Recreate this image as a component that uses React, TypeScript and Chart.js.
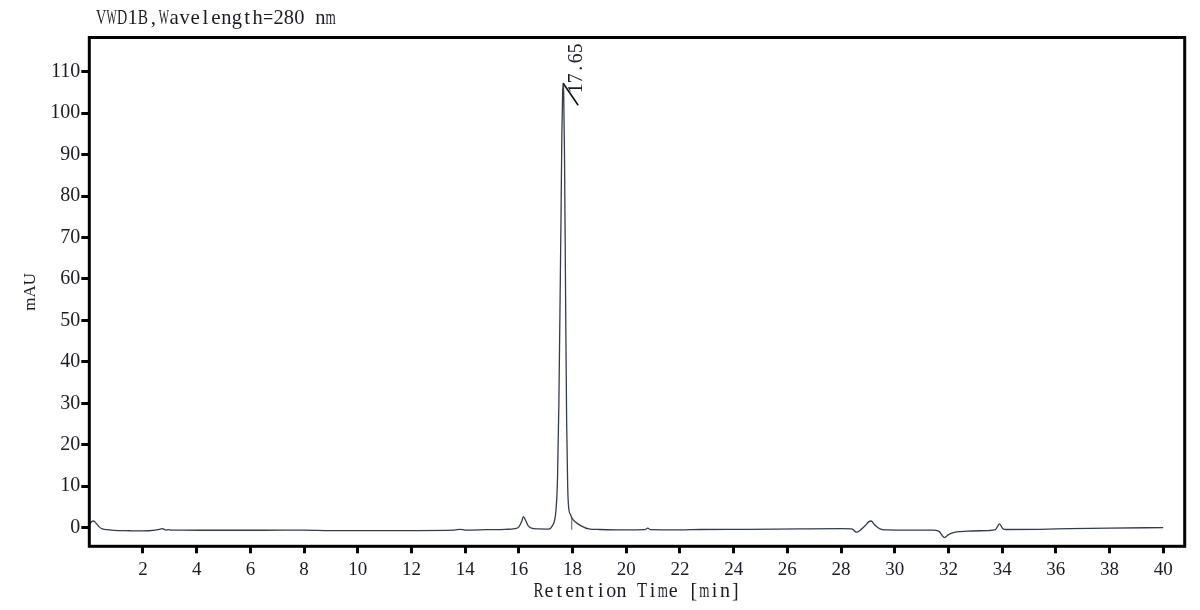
import React, { useEffect, useRef } from 'react';
import { Chart, registerables } from 'chart.js';

Chart.register(...registerables);

// retention time (min) and detector signal (mAU)
const times = [
  0, 0.08, 0.16, 0.25, 0.35, 0.45, 0.65, 0.9, 1.5, 2.0,
  2.45, 2.6, 2.72, 2.86, 2.95, 3.05, 3.5, 5, 6.5, 8.0,
  9.0, 10.5, 12.0, 13.6, 13.8, 14.0, 14.8, 15.5, 15.85, 16.0,
  16.1, 16.17, 16.25, 16.35, 16.5, 16.7, 17.0, 17.15, 17.25, 17.32,
  17.38, 17.44, 17.49, 17.53, 17.57, 17.6, 17.63, 17.65, 17.67, 17.7,
  17.74, 17.78, 17.82, 17.86, 17.92, 17.97, 18.1, 18.3, 18.6, 19.0,
  19.9, 20.7, 20.8, 20.9, 22.0, 22.75, 24.5, 26.5, 28.0, 28.4,
  28.57, 28.72, 28.9, 29.03, 29.12, 29.25, 29.45, 29.7, 30.5, 31.4,
  31.65, 31.85, 32.0, 32.25, 32.7, 33.5, 33.75, 33.9, 34.02, 34.15,
  35.4, 36.5, 38.0, 40.0,
];
const signal = [
  0.9, 1.4, 1.6, 1.1, 0.3, -0.2, -0.5, -0.65, -0.75, -0.8,
  -0.6, -0.4, -0.25, -0.6, -0.5, -0.6, -0.62, -0.63, -0.63, -0.6,
  -0.72, -0.72, -0.7, -0.6, -0.4, -0.6, -0.5, -0.4, -0.25, 0.2,
  1.4, 2.65, 1.8, 0.4, -0.2, -0.3, -0.35, -0.3, 0.5, 1.5,
  4, 12, 30, 52, 75, 94, 105, 107.2, 104.5, 90,
  56, 25, 9.5, 4.5, 3.2, 2.4, 1.4, 0.5, -0.3, -0.45,
  -0.55, -0.5, -0.1, -0.5, -0.55, -0.45, -0.4, -0.3, -0.25, -0.3,
  -1.1, -0.6, 0.5, 1.4, 1.6, 0.7, -0.3, -0.55, -0.6, -0.6,
  -0.9, -2.4, -1.7, -1.1, -0.85, -0.7, -0.5, 0.9, -0.2, -0.45,
  -0.4, -0.25, -0.1, 0.0,
];

const xTicks = [2, 4, 6, 8, 10, 12, 14, 16, 18, 20, 22, 24, 26, 28, 30, 32, 34, 36, 38, 40];
const yTicks = [0, 10, 20, 30, 40, 50, 60, 70, 80, 90, 100, 110];

const peakTimes = [17.65];
const peakHeights = [107.2];
const peakLabels = ['17.65'];

// integration mark dropped under the main peak tail
const markerTimes = [17.97];
const markerLow = [-0.5];
const markerHigh = [2.4];

const SERIF = '"Liberation Serif", "Times New Roman", serif';
const INK = '#1b1b24';

// fixed-pitch text, each glyph squeezed into its own cell
function drawMono(ctx: CanvasRenderingContext2D, text: string, x: number, y: number, advance: number) {
  ctx.textAlign = 'center';
  ctx.textBaseline = 'middle';
  for (let i = 0; i < text.length; i++) {
    const ch = text[i];
    if (ch === ' ') continue;
    const w = ctx.measureText(ch).width;
    const s = Math.min(1, (advance * 0.98) / w);
    ctx.save();
    ctx.translate(x + (i + 0.5) * advance, y);
    ctx.scale(s, 1);
    ctx.fillText(ch, 0, 0);
    ctx.restore();
  }
}

const framePlugin = {
  id: 'frame',
  afterDatasetsDraw(chart: any) {
    const { ctx, chartArea: a, scales } = chart;
    ctx.save();
    ctx.strokeStyle = '#000';
    ctx.lineWidth = 3;
    ctx.strokeRect(a.left, a.top, a.right - a.left, a.bottom - a.top);

    ctx.fillStyle = INK;
    peakTimes.forEach((t, i) => {
      const px = scales.x.getPixelForValue(t);
      const py = scales.y.getPixelForValue(peakHeights[i]);
      ctx.strokeStyle = '#111';
      ctx.lineWidth = 1.6;
      ctx.beginPath();
      ctx.moveTo(px, py);
      ctx.lineTo(px + 15, py + 22);
      ctx.stroke();
      ctx.save();
      ctx.translate(px + 14, py + 10);
      ctx.rotate(-Math.PI / 2);
      ctx.font = `20px ${SERIF}`;
      drawMono(ctx, peakLabels[i], 0, 0, 10);
      ctx.restore();
    });

    ctx.font = `21px ${SERIF}`;
    drawMono(ctx, 'VWD1B,Wavelength=280 nm', 96, 18, 10.43);
    const xt = 'Retention Time [min]';
    const adv = 10.35;
    ctx.font = `20px ${SERIF}`;
    drawMono(ctx, xt, (a.left + a.right) / 2 - (xt.length * adv) / 2, 592, adv);
    ctx.restore();
  },
};

const App: React.FC = () => {
  const canvasRef = useRef<HTMLCanvasElement>(null);

  useEffect(() => {
    if (!canvasRef.current) return;
    const chart = new Chart(canvasRef.current, {
      type: 'line',
      data: {
        datasets: [
          {
            data: times.map((t, i) => ({ x: t, y: signal[i] })),
            borderColor: '#343b4a',
            borderWidth: 1.3,
            pointRadius: 0,
            cubicInterpolationMode: 'monotone',
            fill: false,
          },
          {
            data: markerTimes.flatMap((t, i) => [
              { x: t, y: markerLow[i] },
              { x: t, y: markerHigh[i] },
            ]),
            borderColor: '#555b66',
            borderWidth: 1,
            pointRadius: 0,
            fill: false,
          },
        ],
      },
      options: {
        animation: false,
        responsive: true,
        maintainAspectRatio: false,
        layout: { padding: { top: 37.5, right: 15.3, left: 0, bottom: 0 } },
        plugins: {
          legend: { display: false },
          tooltip: { enabled: false },
        },
        scales: {
          x: {
            type: 'linear',
            min: 0,
            max: 40.8,
            afterBuildTicks: (s: any) => {
              s.ticks = xTicks.map((v) => ({ value: v }));
            },
            afterFit: (s: any) => {
              s.height = 63.7;
            },
            grid: {
              drawOnChartArea: false,
              drawTicks: true,
              tickLength: 7,
              tickWidth: 3,
              tickColor: '#000',
            },
            border: { display: false },
            ticks: {
              font: { family: SERIF, size: 19 },
              color: INK,
              padding: 5,
              maxRotation: 0,
              autoSkip: false,
            },
          },
          y: {
            min: -4.5,
            max: 118.25,
            afterBuildTicks: (s: any) => {
              s.ticks = yTicks.map((v) => ({ value: v }));
            },
            afterFit: (s: any) => {
              s.width = 89.3;
            },
            grid: {
              drawOnChartArea: false,
              drawTicks: true,
              tickLength: 8,
              tickWidth: 3,
              tickColor: '#000',
            },
            border: { display: false },
            ticks: {
              font: { family: SERIF, size: 20 },
              color: INK,
              padding: 1,
              autoSkip: false,
            },
            title: {
              display: true,
              text: 'mAU',
              font: { family: SERIF, size: 17 },
              color: INK,
              padding: { top: 20, bottom: 0 },
            },
          },
        },
      },
      plugins: [framePlugin],
    });
    return () => chart.destroy();
  }, []);

  return (
    <div style={{ position: 'fixed', left: 0, top: 0, width: 1200, height: 610, background: '#fff' }}>
      <canvas ref={canvasRef}></canvas>
    </div>
  );
};

export default App;
